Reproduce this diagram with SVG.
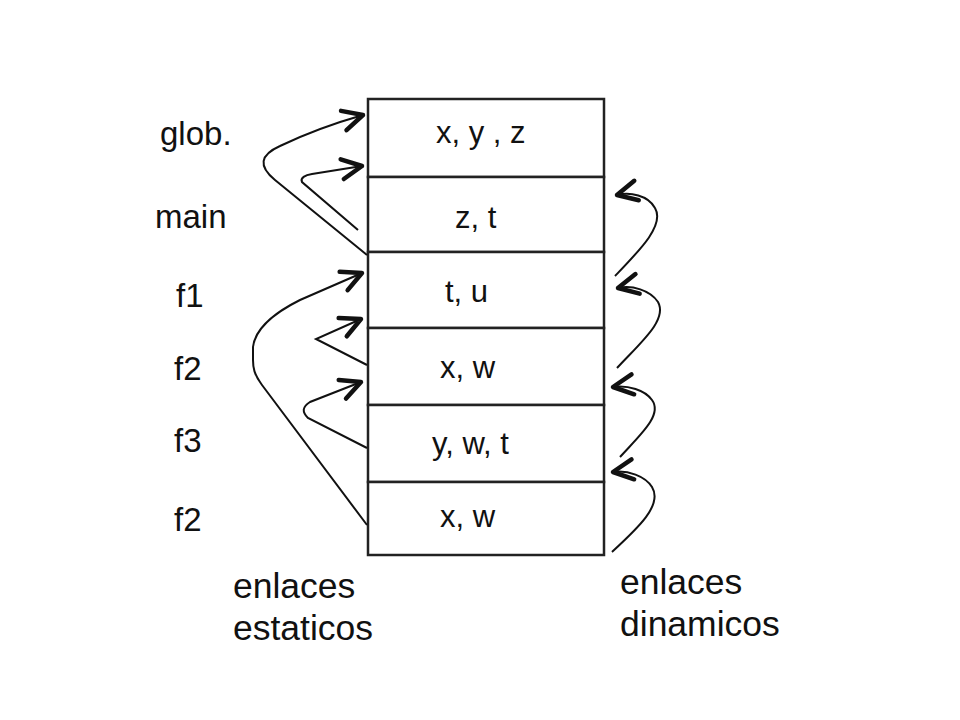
<svg xmlns="http://www.w3.org/2000/svg" width="960" height="720" viewBox="0 0 960 720">
<defs>
<style>
.lbl{font-family:"Liberation Sans",Arial,sans-serif;font-size:31px;fill:#111}
.side{font-family:"Liberation Sans",Arial,sans-serif;font-size:33px;fill:#111}
.big{font-family:"Liberation Sans",Arial,sans-serif;font-size:35.5px;fill:#111}
.cell{fill:#fff;stroke:#222;stroke-width:2.5}
.link{fill:none;stroke:#111;stroke-width:2;marker-end:url(#head)}
</style>
<marker id="head" markerUnits="userSpaceOnUse" viewBox="-24 -14 28 28" refX="0" refY="0" markerWidth="28" markerHeight="28" orient="auto">
<path d="M-20,-10 L0,0 L-20,10" fill="none" stroke="#111" stroke-width="4.5" stroke-linecap="round" stroke-linejoin="round"/>
</marker>
</defs>
<rect width="960" height="720" fill="#fff"/>
<g id="frame-glob"><rect class="cell" x="368" y="99" width="236" height="78"/><text class="lbl" x="436" y="143">x, y , z</text><text class="side" x="160" y="145">glob.</text></g>
<g id="frame-main"><rect class="cell" x="368" y="177" width="236" height="75"/><text class="lbl" x="455" y="228">z, t</text><text class="side" x="155" y="228">main</text></g>
<g id="frame-f1"><rect class="cell" x="368" y="252" width="236" height="76"/><text class="lbl" x="445" y="302">t, u</text><text class="side" x="176" y="307">f1</text></g>
<g id="frame-f2a"><rect class="cell" x="368" y="328" width="236" height="77"/><text class="lbl" x="440" y="378">x, w</text><text class="side" x="174" y="380">f2</text></g>
<g id="frame-f3"><rect class="cell" x="368" y="405" width="236" height="77"/><text class="lbl" x="432" y="454">y, w, t</text><text class="side" x="174" y="452">f3</text></g>
<g id="frame-f2b"><rect class="cell" x="368" y="482" width="236" height="73"/><text class="lbl" x="440" y="527">x, w</text><text class="side" x="174" y="531">f2</text></g>
<g id="connectors">
<path class="link" d="M367,255 L275,180 C258,166 260,155 280,146 C305,134 335,123 363,115"/>
<path class="link" d="M358,230 L302,182 C300,178 305,175 312,174 L362,166"/>
<path class="link" d="M367,525 L262,385 C254,374 253,368 253,360 L253,347 C255,330 270,315 300,300 L362,273"/>
<path class="link" d="M367,365 L316,339 L361,319"/>
<path class="link" d="M367,448 L308,418 C302,412 302,407 310,402 L361,382"/>
<path class="link" d="M615,276 C640,250 665,225 655,208 C648,195 630,192 617,195"/>
<path class="link" d="M617,368 C640,343 668,320 658,302 C650,290 632,285 618,288"/>
<path class="link" d="M620,457 C640,435 663,415 652,400 C645,390 628,385 613,387"/>
<path class="link" d="M612,552 C638,528 663,505 652,487 C645,476 628,470 613,472"/>
</g>
<g id="legend">
<text class="big" x="233" y="598">enlaces</text>
<text class="big" x="233" y="640">estaticos</text>
<text class="big" x="620" y="594">enlaces</text>
<text class="big" x="620" y="636">dinamicos</text>
</g>
</svg>
